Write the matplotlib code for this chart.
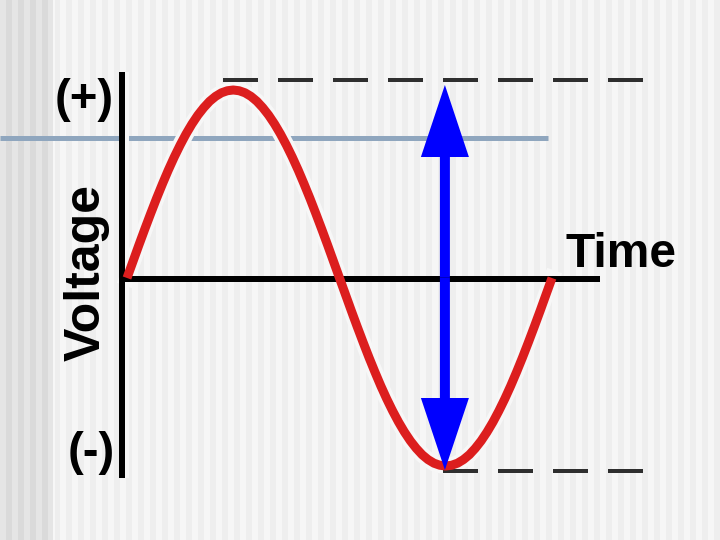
import numpy as np
import matplotlib
matplotlib.use("Agg")
import matplotlib.pyplot as plt
from matplotlib.patches import FancyArrow

# ---- data (one period of the waveform) ----
phase = np.arange(0, 361, 5) / 360.0          # fraction of one period (time)
voltage = [0.000, 0.087, 0.174, 0.259, 0.342, 0.423, 0.500, 0.574, 0.643, 0.707,
           0.766, 0.819, 0.866, 0.906, 0.940, 0.966, 0.985, 0.996, 1.000,
           0.996, 0.985, 0.966, 0.940, 0.906, 0.866, 0.819, 0.766, 0.707, 0.643,
           0.574, 0.500, 0.423, 0.342, 0.259, 0.174, 0.087, 0.000,
           -0.087, -0.174, -0.259, -0.342, -0.423, -0.500, -0.574, -0.643, -0.707,
           -0.766, -0.819, -0.866, -0.906, -0.940, -0.966, -0.985, -0.996, -1.000,
           -0.996, -0.985, -0.966, -0.940, -0.906, -0.866, -0.819, -0.766, -0.707, -0.643,
           -0.574, -0.500, -0.423, -0.342, -0.259, -0.174, -0.087, 0.000]
arrow_t = 0.748
labels = {"plus": "(+)", "minus": "(-)", "ylabel": "Voltage", "xlabel": "Time"}

# ---- pixel <-> data mapping (layout) ----
W, H = 720, 540
X0, XS = 127.0, 425.0    # px of t=0, px per period
Y0, YS = 278.0, 188.0    # px of V=0, px per unit voltage
def tx(px): return (px - X0) / XS
def vy(py): return (Y0 - py) / YS
PT = 0.72  # points per pixel at dpi 100

fig = plt.figure(figsize=(7.2, 5.4), dpi=100)
ax = fig.add_axes([0, 0, 1, 1])
ax.set_xlim(tx(0), tx(W))
ax.set_ylim(vy(H), vy(0))
ax.axis("off")

# background: vertical stripes
cols = np.arange(W)
stripe = ((cols % 12) < 6).astype(float)
bg = np.where(cols < 54, 0.855 + 0.045 * stripe, 0.935 + 0.030 * stripe)
bg[53:55] = 0.97
img = np.repeat(bg[None, :, None], 3, axis=2)
ax.imshow(img, extent=[tx(0), tx(W), vy(H), vy(0)], aspect="auto", zorder=0)

# slide rule line (blue-grey)
ax.plot([tx(0), tx(548)], [vy(138), vy(138)], color="#8fa6be", lw=5 * PT,
        solid_capstyle="butt", zorder=1)

# light halos that break the rule line around the drawing
ax.plot(phase, voltage, color="#f7f7f7", lw=16 * PT, zorder=1.5)
ax.plot([tx(124), tx(124)], [vy(72), vy(478)], color="#f7f7f7", lw=10 * PT,
        solid_capstyle="butt", zorder=1.5)

# dashed reference lines
dash = (0, (35 / 4.0, 20 / 4.0))
ax.plot([tx(223), tx(643)], [vy(80), vy(80)], color="#2e2e2e", lw=4 * PT,
        linestyle=dash, dash_capstyle="butt", zorder=2)
ax.plot([tx(443), tx(643)], [vy(471), vy(471)], color="#2e2e2e", lw=4 * PT,
        linestyle=dash, dash_capstyle="butt", zorder=2)

# axes lines
ax.plot([tx(122), tx(122)], [vy(72), vy(478)], color="black", lw=6 * PT,
        solid_capstyle="butt", zorder=3)
ax.plot([tx(122), tx(600)], [vy(279), vy(279)], color="black", lw=6 * PT,
        solid_capstyle="butt", zorder=3)

# waveform
ax.plot(phase, voltage, color="#dc1e1e", lw=9 * PT, solid_joinstyle="round",
        solid_capstyle="butt", zorder=4)

# double-headed peak-to-peak arrow
top_tip = vy(85)
bot_tip = vy(470)
mid = (top_tip + bot_tip) / 2
kw = dict(width=10 / XS, head_width=48 / XS, head_length=72 / YS,
          length_includes_head=True, color="#0000ff", lw=0, zorder=5)
ax.add_patch(FancyArrow(arrow_t, mid, 0, top_tip - mid, **kw))
ax.add_patch(FancyArrow(arrow_t, mid, 0, bot_tip - mid, **kw))

# texts
font = dict(family=["Liberation Sans", "DejaVu Sans"], weight="bold", color="black")
ax.text(tx(84), vy(100), labels["plus"], fontsize=34, ha="center", va="center", zorder=6, **font)
ax.text(tx(91), vy(453), labels["minus"], fontsize=34, ha="center", va="center", zorder=6, **font)
ax.text(tx(100), vy(272.5), labels["ylabel"], fontsize=36, rotation=90, rotation_mode="anchor",
        ha="center", va="baseline", zorder=6, **font)
ax.text(tx(621), vy(267), labels["xlabel"], fontsize=34.5, ha="center", va="baseline", zorder=6, **font)

fig.savefig("out.png", dpi=100)
